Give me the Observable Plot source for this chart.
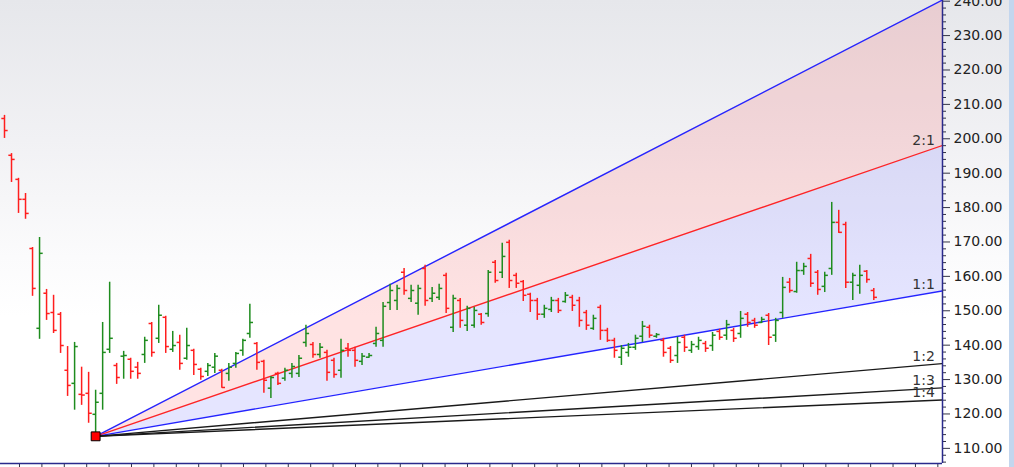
<!DOCTYPE html>
<html><head><meta charset="utf-8">
<script src="https://cdn.jsdelivr.net/npm/d3@7"></script>
<script src="https://cdn.jsdelivr.net/npm/@observablehq/plot@0.6"></script>
<style>
html,body{margin:0;padding:0;background:#fff;}
#wrap{position:relative;width:1014px;height:467px;overflow:hidden;background:linear-gradient(#e6e7eb 0%,#f1f1f4 30%,#fbfbfc 55%,#ffffff 68%,#ffffff 100%);}
#strip{position:absolute;right:0;top:0;width:5px;height:467px;background:#c3d6ee;}
#wrap svg{position:absolute;left:0;top:0;}
</style></head><body><div id="wrap"><div id="strip"></div></div>
<script>
const opens=[205.9,195.2,188.2,182.4,168.1,144.9,155.1,149.5,149.0,132.7,
128.9,125.7,126.0,119.9,126.0,138.8,134.1,136.8,135.9,133.6,
137.3,146.3,142.0,148.1,138.8,140.8,136.2,138.5,133.0,132.4,
133.6,132.7,131.8,134.7,138.5,143.4,140.5,135.3,127.5,131.8,
130.4,131.8,131.8,140.8,140.2,137.3,137.9,135.6,132.7,139.1,
138.5,135.3,136.5,140.5,141.4,152.4,153.0,161.2,153.6,152.2,
162.3,153.6,153.9,160.3,145.2,153.0,145.8,145.8,149.0,149.2,
164.1,161.2,169.9,160.3,158.5,154.8,153.0,149.0,150.4,153.0,
152.7,153.9,153.0,149.5,144.9,151.0,144.3,141.4,136.5,137.9,
139.4,142.6,145.2,142.6,141.4,139.1,137.0,142.3,138.5,139.6,
140.5,139.9,144.0,142.9,144.3,143.4,149.0,147.2,146.6,148.7,
142.9,149.5,158.3,155.6,161.7,165.2,161.2,157.1,162.3,175.7,
175.1,158.3,157.4,161.5,155.9];
const highs=[206.8,195.7,188.5,184.1,168.4,171.3,156.2,154.5,149.5,139.6,
140.8,133.6,132.1,126.9,146.6,158.3,134.7,138.2,136.2,135.0,
142.3,146.6,151.6,148.4,144.0,142.9,144.9,138.8,133.3,134.7,
137.6,133.0,134.7,137.9,141.7,151.9,140.8,135.6,130.9,132.1,
133.3,134.7,137.0,145.8,140.8,140.5,138.5,136.2,141.7,140.5,
139.4,137.6,137.6,145.2,152.4,157.7,157.4,162.3,157.4,157.4,
163.2,156.8,157.7,160.9,154.5,153.6,151.3,151.0,149.2,161.7,
164.6,169.6,170.5,160.9,158.8,155.1,153.6,151.6,153.9,153.6,
155.3,154.5,153.9,150.1,148.7,151.6,144.9,142.0,139.9,140.5,
142.9,146.9,145.8,143.4,142.0,139.6,142.3,142.9,141.1,142.3,
141.1,143.7,144.6,147.2,144.9,149.8,149.5,147.8,148.1,149.2,
147.8,159.7,159.4,164.1,163.8,166.4,161.7,161.2,181.5,179.2,
175.7,160.9,163.2,161.7,156.5];
const lows=[200.1,187.3,178.3,176.6,154.2,141.7,147.2,143.4,137.6,125.1,
121.1,122.5,117.3,113.5,121.1,137.6,128.6,130.1,130.1,130.1,
134.7,136.5,140.5,137.6,137.9,132.7,135.6,131.2,129.8,130.9,
131.8,127.5,129.5,133.3,136.8,142.0,132.7,126.0,124.5,128.3,
129.5,130.4,130.6,139.4,136.2,136.2,129.5,130.4,130.4,136.5,
133.6,134.1,136.2,139.4,139.4,150.1,150.1,154.5,152.4,148.7,
151.3,152.4,153.0,149.2,143.7,144.9,144.0,144.9,145.8,148.1,
158.0,159.4,156.5,156.5,152.7,149.5,147.2,147.8,149.5,149.2,
152.2,149.8,145.2,144.3,144.3,141.4,140.8,136.2,134.1,136.5,
138.5,140.8,142.0,142.0,136.5,134.7,134.7,137.9,137.6,138.5,
137.9,138.2,141.4,141.4,140.8,142.0,145.2,144.9,146.3,139.9,
140.8,147.8,155.1,155.1,160.3,156.8,154.5,155.3,160.3,172.5,
156.5,153.0,154.8,158.0,153.0];
const closes=[202.4,194.0,182.4,178.3,156.5,166.7,149.2,144.3,139.9,128.3,
139.6,125.5,120.2,123.4,137.9,142.0,130.6,137.0,132.4,131.8,
141.4,137.9,148.7,139.6,139.9,134.7,139.9,134.4,130.9,134.1,
136.8,127.7,133.6,137.6,141.4,146.6,135.0,129.8,130.6,128.9,
132.7,133.8,136.2,143.4,137.3,139.4,132.1,131.5,138.5,138.5,
135.6,136.8,137.0,143.4,151.3,155.9,156.5,155.9,155.9,156.5,
153.0,155.1,156.5,150.7,153.6,147.2,150.7,150.1,146.6,161.2,
158.8,165.8,158.8,158.0,154.5,153.0,149.0,150.7,153.0,150.1,
154.5,151.6,147.2,145.8,147.8,144.3,141.4,138.5,139.1,139.4,
142.0,145.5,142.9,143.1,137.9,135.6,140.8,139.4,140.2,141.4,
139.1,142.9,142.3,146.0,142.0,147.8,146.6,145.8,147.5,142.3,
147.2,156.8,155.9,161.7,162.9,158.0,156.2,160.3,175.7,172.8,
158.3,160.3,160.3,159.1,153.9];

// Gann fan
const fanOriginBar = 13;
const fanOriginPrice = 113.5;
const fanUnit = 0.35;            // price per bar for the 1:1 line
const fanRatios = [3, 2, 1, 1/2, 1/3, 1/4];
const fanLabels = ["", "2:1", "1:1", "1:2", "1:3", "1:4"];
const fanColors = ["#2424ff", "#ff2424", "#2424ff", "#1a1a1a", "#1a1a1a", "#1a1a1a"];

// axes
const yTickValues = [110,120,130,140,150,160,170,180,190,200,210,220,230,240];
const yMinorTicks = d3.range(106, 241, 2).filter(v => v % 10 !== 0);
const xDomain = [-0.57, 133.8];
const yDomain = [105.6, 240.2];
const xTickValues = d3.range(2.14, 134, 3.195);

const bars = opens.map((o, i) => ({i, open: o, high: highs[i], low: lows[i], close: closes[i],
  color: closes[i] < o ? "#ff1e1e" : "#1e8c1e"}));

const xEnd = xDomain[1];
const fanAt = (r, x) => fanOriginPrice + r * fanUnit * (x - fanOriginBar);
const fanLines = fanRatios.map((r, k) => ({r, k, pts: [
  {x: fanOriginBar, y: fanOriginPrice}, {x: xEnd, y: fanAt(r, xEnd)}]}));
const areaPts = [fanOriginBar, xEnd];
const labelX = 132.7;
const labelData = fanRatios.map((r, k) => ({x: labelX, y: fanAt(r, labelX), t: fanLabels[k]})).filter(d => d.t);

const marks = [
  Plot.areaY(areaPts, {x: d => d, y1: d => fanAt(fanRatios[1], d), y2: d => fanAt(fanRatios[0], d), fill: "#ff0000", fillOpacity: 0.11, clip: true}),
  Plot.areaY(areaPts, {x: d => d, y1: d => fanAt(fanRatios[2], d), y2: d => fanAt(fanRatios[1], d), fill: "#0000ff", fillOpacity: 0.1, clip: true}),
  ...fanLines.map(f => Plot.line(f.pts, {x: "x", y: "y", stroke: fanColors[f.k], strokeWidth: 1.4, clip: true})),
  Plot.ruleX(bars, {x: "i", y1: "low", y2: "high", stroke: "color", strokeWidth: 1.5}),
  Plot.link(bars, {x1: d => d.i - 0.45, x2: "i", y1: "open", y2: "open", stroke: "color", strokeWidth: 1.5}),
  Plot.link(bars, {x1: "i", x2: d => d.i + 0.45, y1: "close", y2: "close", stroke: "color", strokeWidth: 1.5}),
  Plot.dot([{x: fanOriginBar, y: fanOriginPrice}], {x: "x", y: "y", symbol: "square", r: 5, fill: "#ff0000", stroke: "#000", strokeWidth: 1}),
  Plot.text(labelData, {x: "x", y: "y", text: "t", textAnchor: "end", lineAnchor: "bottom", dy: -3, fill: "#333", fontSize: 14}),
  Plot.axisY({anchor: "right", ticks: yMinorTicks, tickSize: 3, tickFormat: () => "", stroke: "#334"}),
  Plot.axisY({anchor: "right", ticks: yTickValues, tickSize: 7, tickPadding: 4, tickFormat: d => d.toFixed(2), fontSize: 14, fill: "#222", stroke: "#334"}),
  Plot.axisX({anchor: "bottom", ticks: xTickValues, tickSize: 4, tickFormat: () => "", stroke: "#334"}),
  Plot.ruleX([xDomain[1]], {stroke: "#2a2a8c", strokeWidth: 1.5}),
  Plot.ruleY([yDomain[0]], {stroke: "#2a2a8c", strokeWidth: 1.5})
];

const chart = Plot.plot({
  width: 1014, height: 467,
  marginLeft: 0, marginRight: 72, marginTop: 0, marginBottom: 4,
  x: {domain: xDomain, axis: null},
  y: {domain: yDomain, axis: null},
  style: {background: "transparent", fontFamily: "DejaVu Sans, sans-serif", fontSize: "14px", overflow: "hidden"},
  marks
});
document.getElementById("wrap").appendChild(chart);
</script>
</body></html>
